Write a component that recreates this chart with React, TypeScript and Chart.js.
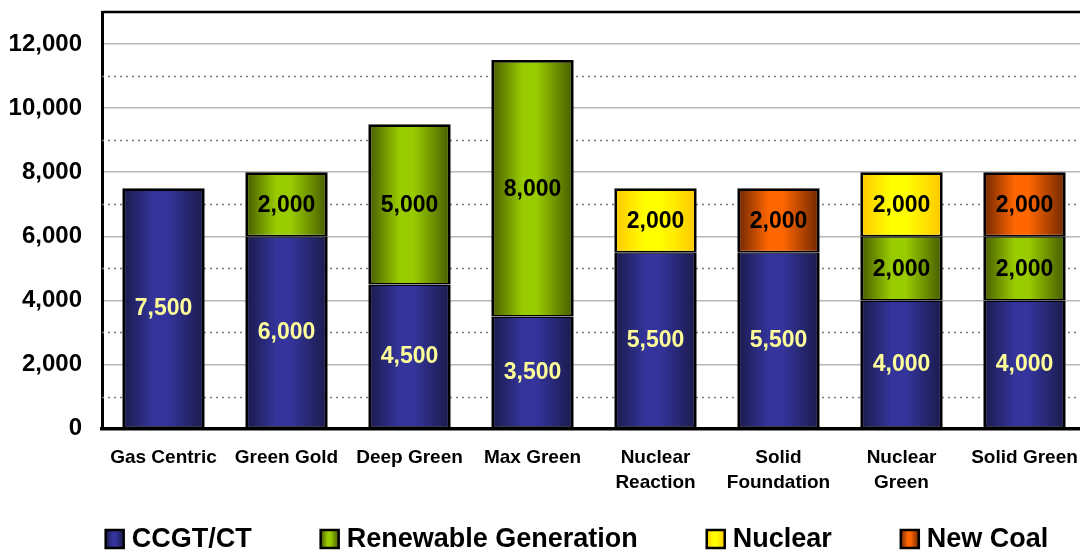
import { useEffect, useRef } from 'react';
import { Chart, registerables } from 'chart.js';
Chart.register(...registerables);

const categories: string[][] = [
  ['Gas Centric'], ['Green Gold'], ['Deep Green'], ['Max Green'],
  ['Nuclear', 'Reaction'], ['Solid', 'Foundation'], ['Nuclear', 'Green'], ['Solid Green'],
];
const ccgt = [7500, 6000, 4500, 3500, 5500, 5500, 4000, 4000];
const renewable = [null, 2000, 5000, 8000, null, null, 2000, 2000];
const nuclear = [null, null, null, null, 2000, null, 2000, null];
const newCoal = [null, null, null, null, null, 2000, null, 2000];
const seriesNames = ['CCGT/CT', 'Renewable Generation', 'Nuclear', 'New Coal'];
const yMin = 0;
const yMax = 13000;
const yStep = 1000;

const FONT = "Arial, 'Liberation Sans', sans-serif";
const BAR_PCT = 0.67;

const palettes: [string, string][] = [
  ['#1a1a4a', '#34349c'],
  ['#465a00', '#99cc00'],
  ['#ffc800', '#ffff00'],
  ['#6e2600', '#ff6600'],
];
const labelColors = ['#ffff99', '#000', '#000', '#000'];

function makeGrad(c: CanvasRenderingContext2D, x0: number, x1: number, p: [string, string]) {
  const g = c.createLinearGradient(x0, 0, x1, 0);
  g.addColorStop(0, p[0]);
  g.addColorStop(0.38, p[1]);
  g.addColorStop(0.55, p[1]);
  g.addColorStop(1, p[0]);
  return g;
}

function gradFill(p: [string, string]) {
  return (ctx: any) => {
    const chart = ctx.chart;
    const xs = chart.scales?.x;
    if (!xs || ctx.dataIndex === undefined || !xs.width) return p[1];
    const cx = xs.getPixelForValue(ctx.dataIndex);
    const hw = (xs.width / categories.length) * BAR_PCT / 2;
    return makeGrad(chart.ctx, cx - hw, cx + hw, p);
  };
}

function borderFor(ctx: any) {
  const ds = ctx.chart.data.datasets;
  const i = ctx.dataIndex;
  let isTop = true;
  for (let d = (ctx.datasetIndex ?? 0) + 1; d < ds.length; d++) {
    const v = ds[d].data[i];
    if (v !== null && v !== undefined) isTop = false;
  }
  return { left: 2.8, right: 2.8, top: isTop ? 2.8 : 1.5, bottom: 1.5 };
}

const dottedPlugin = {
  id: 'dotted',
  beforeDatasetsDraw(chart: any) {
    const { ctx, chartArea } = chart;
    const ys = chart.scales.y;
    ctx.save();
    ctx.strokeStyle = '#7a7a7a';
    ctx.lineWidth = 1.3;
    ctx.setLineDash([2, 4]);
    for (let v = yMin + yStep; v < yMax; v += 2 * yStep) {
      const y = Math.round(ys.getPixelForValue(v)) + 0.5;
      ctx.beginPath();
      ctx.moveTo(chartArea.left, y);
      ctx.lineTo(chartArea.right, y);
      ctx.stroke();
    }
    ctx.restore();
  },
};

const labelsPlugin = {
  id: 'valueLabels',
  afterDatasetsDraw(chart: any) {
    const { ctx, chartArea } = chart;
    ctx.save();
    ctx.font = `bold 23px ${FONT}`;
    ctx.textAlign = 'center';
    ctx.textBaseline = 'middle';
    chart.data.datasets.forEach((ds: any, di: number) => {
      const meta = chart.getDatasetMeta(di);
      meta.data.forEach((el: any, i: number) => {
        const v = ds.data[i];
        if (v === null || v === undefined) return;
        ctx.fillStyle = labelColors[di];
        ctx.fillText(v.toLocaleString('en-US'), el.x, (el.y + el.base) / 2 + 1);
      });
    });
    ctx.strokeStyle = '#000';
    ctx.lineWidth = 2.5;
    ctx.beginPath();
    ctx.moveTo(chartArea.left, chartArea.top);
    ctx.lineTo(chartArea.right, chartArea.top);
    ctx.stroke();
    ctx.restore();
  },
};

const legendPlugin = {
  id: 'customLegend',
  afterDraw(chart: any) {
    const { ctx } = chart;
    ctx.save();
    ctx.font = `bold 27px ${FONT}`;
    const box = 18, gapText = 8, gapItem = 69;
    const widths = seriesNames.map((n) => box + gapText + ctx.measureText(n).width);
    const total = widths.reduce((a, b) => a + b, 0) + gapItem * (seriesNames.length - 1);
    let x = chart.width / 2 - total / 2;
    const yc = chart.height - 12;
    seriesNames.forEach((n, i) => {
      ctx.fillStyle = makeGrad(ctx, x, x + box, palettes[i]);
      ctx.fillRect(x, yc - box / 2, box, box);
      ctx.strokeStyle = '#000';
      ctx.lineWidth = 2.5;
      ctx.strokeRect(x, yc - box / 2, box, box);
      ctx.fillStyle = '#000';
      ctx.textAlign = 'left';
      ctx.textBaseline = 'middle';
      ctx.fillText(n, x + box + gapText, yc + 1);
      x += widths[i] + gapItem;
    });
    ctx.restore();
  },
};

export default function App() {
  const ref = useRef<HTMLCanvasElement | null>(null);
  useEffect(() => {
    document.body.style.margin = '0';
    const series = [ccgt, renewable, nuclear, newCoal];
    const chart = new Chart(ref.current as HTMLCanvasElement, {
      type: 'bar',
      data: {
        labels: categories as any,
        datasets: series.map((d, i) => ({
          label: seriesNames[i],
          data: d as any,
          backgroundColor: gradFill(palettes[i]) as any,
          borderColor: '#000',
          borderWidth: borderFor as any,
          borderSkipped: false,
          categoryPercentage: 1,
          barPercentage: BAR_PCT,
        })),
      },
      options: {
        animation: false,
        responsive: true,
        maintainAspectRatio: false,
        layout: { padding: { left: 8, right: 68, top: 12, bottom: 47 } },
        plugins: { legend: { display: false }, tooltip: { enabled: false } },
        scales: {
          x: {
            stacked: true,
            grid: { display: false },
            border: { display: true, color: '#000', width: 3.5 },
            ticks: {
              color: '#000',
              font: { family: FONT, size: 19, weight: 'bold', lineHeight: 1.3 },
              padding: 9,
              autoSkip: false,
              maxRotation: 0,
            },
          },
          y: {
            stacked: true,
            min: yMin,
            max: yMax,
            afterFit: (s: any) => { s.width = 94; s.paddingTop = 0; s.paddingBottom = 0; },
            grid: {
              drawTicks: false,
              lineWidth: 1.5,
              color: (c: any) =>
                c.tick && c.tick.value % (2 * yStep) === 0 && c.tick.value !== 0 ? '#b8b8b8' : 'rgba(0,0,0,0)',
            },
            border: { display: true, color: '#000', width: 3 },
            ticks: {
              stepSize: yStep,
              autoSkip: false,
              color: '#000',
              padding: 20,
              font: { family: FONT, size: 24, weight: 'bold' },
              callback: (v: any) => (Number(v) % (2 * yStep) === 0 ? Number(v).toLocaleString('en-US') : ''),
            },
          },
        },
      },
      plugins: [dottedPlugin, labelsPlugin, legendPlugin],
    });
    return () => chart.destroy();
  }, []);
  return (
    <div style={{ width: 1080, height: 551, overflow: 'hidden', position: 'relative' }}>
      <div style={{ width: 1154, height: 551, position: 'absolute', left: 0, top: 0 }}>
        <canvas ref={ref} />
      </div>
    </div>
  );
}
